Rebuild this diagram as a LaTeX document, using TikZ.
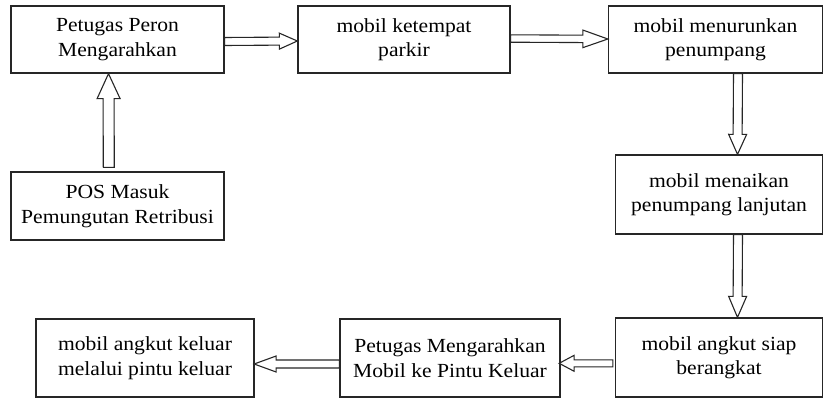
\documentclass[tikz,border=0pt]{standalone}
\usepackage{fontspec}
\setmainfont{Liberation Serif}[FakeStretch=1.08]
\usetikzlibrary{calc}
\newcommand\blockarrow[5]{%
  \path #1 coordinate (ba-a) #2 coordinate (ba-b);
  \path ($(ba-b)!#5!(ba-a)$) coordinate (ba-h);
  \draw[blk] ($(ba-a)!#3!90:(ba-b)$) -- ($(ba-h)!#3!90:(ba-b)$) -- ($(ba-h)!#4!90:(ba-b)$)
    -- (ba-b) -- ($(ba-h)!#4!-90:(ba-b)$) -- ($(ba-h)!#3!-90:(ba-b)$) -- ($(ba-a)!#3!-90:(ba-b)$) -- cycle;
}
\begin{document}
\begin{tikzpicture}[x=1pt,y=-1pt,
  box/.style={draw=black!85, line width=1.3pt, align=center, inner sep=0pt,
    font=\fontsize{20}{24.5}\selectfont, text=black},
  blk/.style={draw=black!85, line width=1.1pt, fill=white, line join=miter}]
\useasboundingbox (0,0) rectangle (824,399);
\node[box, minimum width=213pt, minimum height=67pt] (b1) at (117.5,39.5) {Petugas Peron\\Mengarahkan};
\node[box, minimum width=212pt, minimum height=67pt] (b2) at (404,39.5) {mobil ketempat\\parkir};
\node[box, minimum width=214pt, minimum height=67pt] (b3) at (715.5,39.5) {mobil menurunkan\\penumpang};
\node[box, minimum width=207pt, minimum height=79pt] (b4) at (719,194.5) {mobil menaikan\\penumpang lanjutan};
\node[box, minimum width=213pt, minimum height=68pt] (b5) at (117.5,206) {POS Masuk\\Pemungutan Retribusi};
\node[box, minimum width=207pt, minimum height=79pt] (b6) at (719,357.5) {mobil angkut siap\\berangkat};
\node[box, minimum width=220pt, minimum height=78pt] (b7) at (450,358) {Petugas Mengarahkan\\Mobil ke Pintu Keluar};
\node[box, minimum width=218pt, minimum height=78pt] (b8) at (145,358) {mobil angkut keluar\\melalui pintu keluar};
\blockarrow{($(b1.east)+(0,2)$)}{($(b2.west)+(0,1.5)$)}{4pt}{8pt}{18pt}
\blockarrow{($(b2.east)+(0,-1)$)}{($(b3.west)+(0,-0.5)$)}{3.7pt}{8.8pt}{25pt}
\blockarrow{($(b3.south)+(22.5,0)$)}{($(b4.north)+(18.5,0)$)}{4.5pt}{9pt}{20pt}
\blockarrow{($(b4.south)+(19,0)$)}{($(b6.north)+(18.5,0)$)}{4.5pt}{9pt}{21pt}
\blockarrow{($(b6.west)+(-2,5.8)$)}{($(b7.east)+(-1.5,5.3)$)}{3.5pt}{8pt}{15pt}
\blockarrow{($(b7.west)+(0,6)$)}{($(b8.east)+(-0.5,6)$)}{4pt}{8pt}{22pt}
\blockarrow{($(b5.north)+(-8.7,-4)$)}{($(b1.south)+(-9,0)$)}{5.5pt}{11.5pt}{25pt}
\end{tikzpicture}
\end{document}
